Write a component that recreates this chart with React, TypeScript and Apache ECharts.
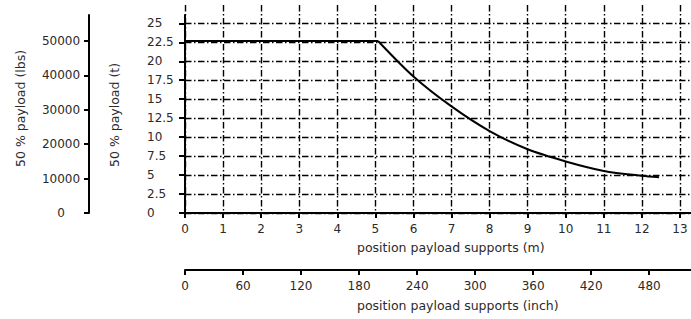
import React, { useEffect, useRef } from "react";
import * as echarts from "echarts";

// data (metres -> tonnes)
const flatSegment: [number, number][] = [
  [0, 22.68],
  [5.07, 22.68],
];
const curveSegment: [number, number][] = [
  [5.07, 22.68],
  [6, 18.0],
  [7, 14.05],
  [8, 10.8],
  [9, 8.4],
  [10, 6.8],
  [11, 5.55],
  [12, 4.9],
  [12.45, 4.72],
];
const xMaxM = 13.29;
const yMaxT = 26.1;
const LBS_PER_T = 2204.62;
const INCH_PER_M = 39.37;

const FONT = "DejaVu Sans";
const TXT = "#2a2a2a";
const dashDot = [6.5, 2.5, 1.5, 2.5];

export default function App() {
  const ref = useRef<HTMLDivElement>(null);
  useEffect(() => {
    if (!ref.current) return;
    const chart = echarts.init(ref.current, undefined, { renderer: "svg" });
    const axisLine = { show: true, lineStyle: { color: "#000", width: 2 } };
    const hidden = { show: false };
    const fmt = (v: number) => String(v);
    chart.setOption({
      animation: false,
      backgroundColor: "#fff",
      grid: [
        { left: 185, top: 15, width: 506, height: 198 },
        { left: 185, top: 5, width: 506, height: 208 },
        { left: 89, top: 15, width: 10, height: 198 },
        { left: 185, top: 260, width: 506, height: 10 },
      ],
      xAxis: [
        {
          gridIndex: 0,
          type: "value",
          min: 0,
          max: xMaxM,
          interval: 1,
          axisLine,
          axisTick: { show: true, length: 5, lineStyle: { color: "#000", width: 2 } },
          axisLabel: {
            color: TXT,
            fontFamily: FONT,
            fontSize: 12,
            margin: 10,
            showMaxLabel: false,
            formatter: fmt,
          },
          splitLine: { show: false },
        },
        {
          gridIndex: 1,
          type: "value",
          min: 0,
          max: xMaxM,
          interval: 1,
          axisLine: { show: false },
          axisTick: { show: false },
          axisLabel: { show: false },
          splitLine: {
            show: true,
            showMaxLine: false,
            lineStyle: { color: "#000", width: 1.4, type: dashDot },
          },
        },
        { gridIndex: 2, type: "value", min: 0, max: 1, ...hidden },
        {
          gridIndex: 3,
          type: "value",
          position: "bottom",
          min: 0,
          max: xMaxM * INCH_PER_M,
          interval: 60,
          axisLine,
          axisTick: { show: true, length: 5, lineStyle: { color: "#000", width: 2 } },
          axisLabel: {
            color: TXT,
            fontFamily: FONT,
            fontSize: 12,
            margin: 10,
            showMaxLabel: false,
            formatter: fmt,
          },
          splitLine: { show: false },
        },
      ],
      yAxis: [
        {
          gridIndex: 0,
          type: "value",
          min: 0,
          max: yMaxT,
          interval: 2.5,
          axisLine,
          axisTick: { show: true, length: 6, lineStyle: { color: "#000", width: 2 } },
          axisLabel: {
            color: TXT,
            fontFamily: FONT,
            fontSize: 12,
            margin: 38,
            align: "left",
            showMaxLabel: false,
            formatter: fmt,
          },
          splitLine: {
            show: true,
            showMaxLine: false,
            lineStyle: { color: "#000", width: 1.4, type: dashDot },
          },
        },
        { gridIndex: 1, type: "value", min: 0, max: 1, ...hidden },
        {
          gridIndex: 2,
          type: "value",
          position: "left",
          min: 0,
          max: yMaxT * LBS_PER_T,
          interval: 10000,
          axisLine,
          axisTick: { show: true, length: 5, lineStyle: { color: "#000", width: 2 } },
          axisLabel: {
            color: TXT,
            fontFamily: FONT,
            fontSize: 12,
            margin: 28,
            align: "center",
            showMaxLabel: false,
            formatter: fmt,
          },
          splitLine: { show: false },
        },
        { gridIndex: 3, type: "value", min: 0, max: 1, ...hidden },
      ],
      series: [
        {
          type: "line",
          xAxisIndex: 0,
          yAxisIndex: 0,
          data: flatSegment,
          symbol: "none",
          lineStyle: { color: "#000", width: 2 },
        },
        {
          type: "line",
          xAxisIndex: 0,
          yAxisIndex: 0,
          data: curveSegment,
          symbol: "none",
          smooth: 0.3,
          lineStyle: { color: "#000", width: 2 },
        },
      ],
      graphic: [
        {
          type: "text",
          left: 357,
          top: 241,
          style: { text: "position payload supports (m)", fill: TXT, font: `12.5px "${FONT}"` },
        },
        {
          type: "text",
          left: 357,
          top: 299,
          style: { text: "position payload supports (inch)", fill: TXT, font: `12.5px "${FONT}"` },
        },
        {
          type: "text",
          x: 20,
          y: 167,
          rotation: Math.PI / 2,
          style: {
            text: "50 % payload (lbs)",
            fill: TXT,
            font: `12.5px "${FONT}"`,
            textAlign: "left",
            textVerticalAlign: "middle",
          },
        },
        {
          type: "text",
          x: 114,
          y: 167,
          rotation: Math.PI / 2,
          style: {
            text: "50 % payload (t)",
            fill: TXT,
            font: `12.5px "${FONT}"`,
            textAlign: "left",
            textVerticalAlign: "middle",
          },
        },
      ],
    });
    return () => chart.dispose();
  }, []);
  return (
    <div
      ref={ref}
      style={{ position: "absolute", left: 0, top: 0, width: 691, height: 319 }}
    />
  );
}
